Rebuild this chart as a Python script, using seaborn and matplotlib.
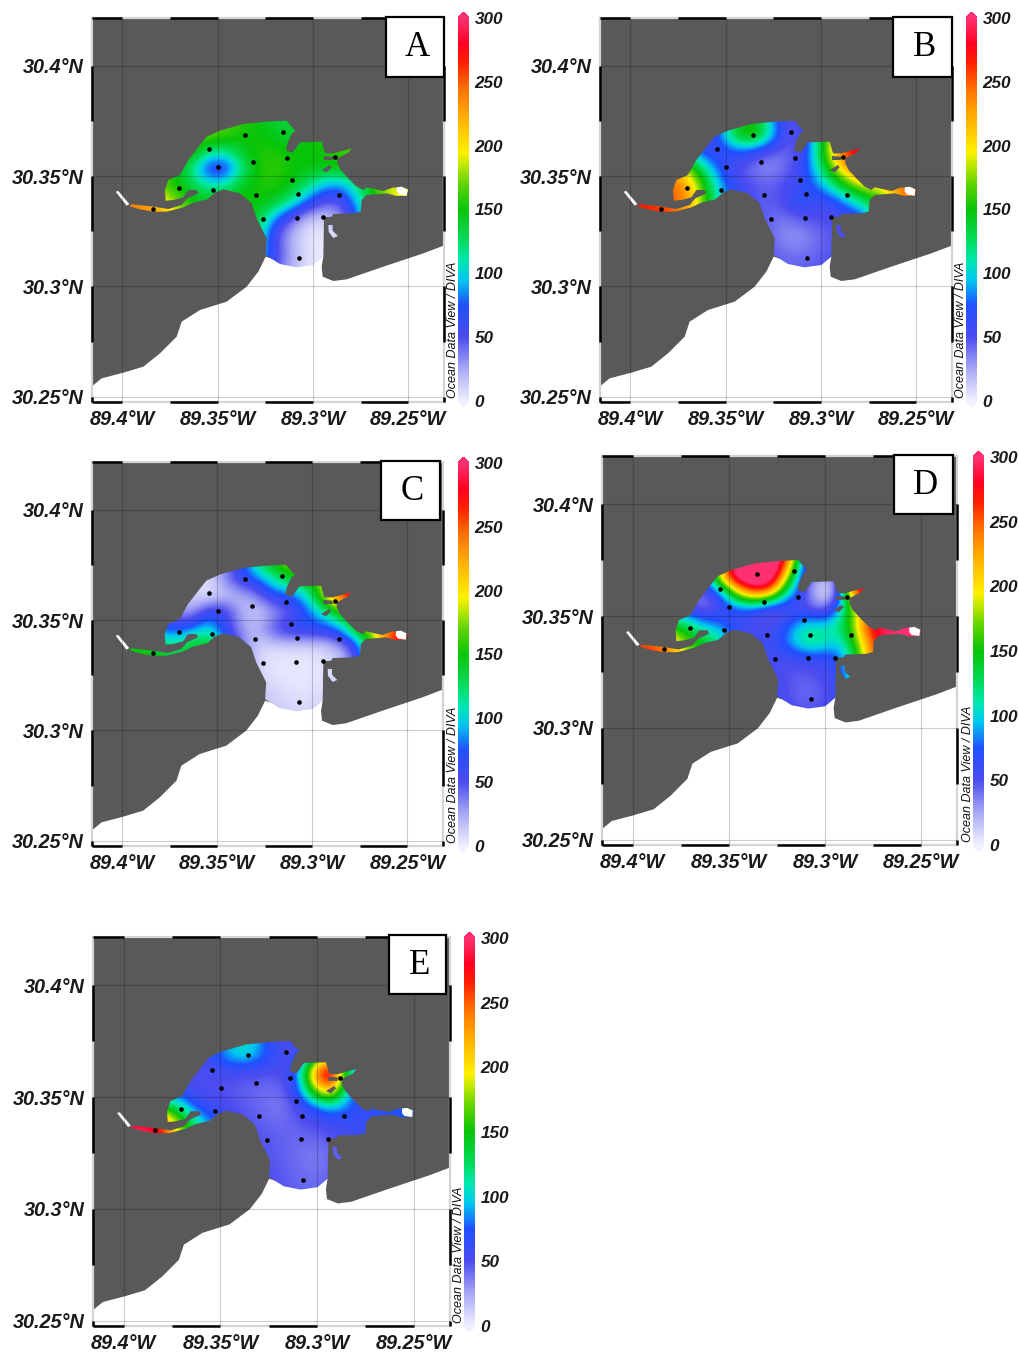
import numpy as np
import matplotlib
matplotlib.use("Agg")
import matplotlib.pyplot as plt
import seaborn as sns
from matplotlib.colors import LinearSegmentedColormap
from matplotlib.path import Path
from matplotlib.patches import PathPatch, Polygon, Rectangle

W, H = 1020, 1355

# colour scale, value / colour
CMAP_VALUES = [0, 25, 50, 75, 95, 110, 125, 150, 170, 185, 195, 225, 245, 265, 280, 300]
CMAP_COLORS = ["#f0f0ff", "#a8a8f5", "#4c4cf0", "#2050ff", "#00c8f0", "#00e8b0", "#00dc60", "#08c408",
               "#60d400", "#c0e800", "#fff000", "#ffa800", "#ff7000", "#ff2000", "#ff0020", "#ff3070"]
CBAR_TICKS = [0, 50, 100, 150, 200, 250, 300]

# sampling stations
STATION_LON = [-89.3837, -89.3703, -89.3544, -89.3497, -89.3526, -89.3355, -89.3315, -89.3301, -89.3260,
               -89.3159, -89.3138, -89.3110, -89.3079, -89.3086, -89.3072, -89.2883, -89.2862, -89.2946]
STATION_LAT = [30.3352, 30.3447, 30.3622, 30.3541, 30.3437, 30.3687, 30.3562, 30.3414, 30.3307,
               30.3701, 30.3583, 30.3482, 30.3417, 30.3311, 30.3127, 30.3585, 30.3414, 30.3313]

LON_TICKS = [-89.4, -89.35, -89.3, -89.25]
LON_LABELS = ["89.4°W", "89.35°W", "89.3°W", "89.25°W"]
LAT_TICKS = [30.4, 30.35, 30.3, 30.25]
LAT_LABELS = ["30.4°N", "30.35°N", "30.3°N", "30.25°N"]
LON_LIM = (-89.4159, -89.2313)
LAT_LIM = (30.24765, 30.42156)
LON_DASHES = [(-89.4159, -89.4), (-89.375, -89.35), (-89.325, -89.3), (-89.275, -89.25)]
LAT_DASHES = [(30.4, 30.375), (30.35, 30.325), (30.3, 30.275), (30.25, 30.24765)]

BAY = [(197, 272), (195, 240), (205, 210), (240, 195), (265, 150), (300, 105), (320, 80), (360, 62), (430, 42),
       (500, 35), (560, 32), (570, 45), (586, 62), (575, 72), (562, 100), (558, 122), (578, 128), (600, 97),
       (665, 95), (675, 130), (700, 130), (755, 115), (745, 128), (712, 145), (712, 160), (722, 180), (745, 205),
       (770, 230), (790, 240), (800, 232), (850, 243), (880, 232), (925, 238), (920, 257), (890, 258), (860, 250),
       (800, 255), (785, 270), (782, 305), (760, 310), (700, 312), (695, 320), (672, 322), (670, 440), (640, 465),
       (590, 472), (540, 462), (497, 435), (500, 385), (470, 325), (455, 280), (420, 250), (370, 238), (345, 248),
       (322, 268), (280, 278), (250, 292), (200, 305), (160, 305), (120, 298), (88, 288), (95, 283), (160, 290),
       (205, 297), (245, 285), (262, 265), (295, 250), (290, 240), (265, 240), (250, 262), (220, 270)]
CREEK = [(685, 345), (698, 345), (698, 362), (714, 378), (700, 384), (686, 365)]
ISLANDS = [[(672, 138), (700, 140), (700, 150), (672, 150)],
           [(665, 180), (690, 165), (695, 172), (680, 187)]]
WHITE_ENDS = [[(47, 245), (55, 243), (88, 282), (80, 287)],
              [(890, 232), (905, 230), (922, 238), (920, 257), (897, 254), (890, 245)]]
WATER = [(-40, 835), (-23, 828), (5, 805), (70, 788), (130, 770), (180, 730), (230, 680), (245, 635), (300, 600),
         (380, 575), (440, 530), (475, 485), (497, 440), (590, 470), (670, 440), (665, 470), (668, 500), (700, 513),
         (740, 508), (850, 470), (970, 430), (1028, 408), (1060, 398), (1060, 900), (-40, 900)]

# field values on a coarse map grid, rows north to south
FIELD_A = [
    [170, 170, 170, 170, 170, 170, 170, 165, 160, 150, 135, 135, 150, 150, 150, 150, 150, 150, 150],
    [170, 170, 170, 170, 170, 172, 172, 165, 150, 150, 145, 135, 150, 155, 165, 170, 170, 170, 170],
    [170, 170, 170, 170, 170, 165, 120, 115, 145, 155, 155, 150, 150, 150, 160, 170, 170, 170, 170],
    [170, 170, 170, 165, 155, 115, 55, 50, 115, 155, 160, 150, 150, 150, 150, 150, 150, 150, 150],
    [230, 230, 190, 165, 150, 135, 110, 115, 145, 155, 155, 150, 120, 90, 85, 125, 160, 195, 200],
    [240, 240, 240, 215, 175, 150, 150, 150, 150, 150, 145, 115, 75, 45, 48, 100, 150, 190, 200],
    [245, 245, 235, 230, 205, 170, 150, 150, 150, 140, 80, 42, 12, 10, 30, 80, 150, 190, 200],
    [245, 245, 235, 230, 205, 170, 150, 150, 150, 120, 50, 20, 3, 3, 5, 60, 150, 190, 200],
    [245, 245, 235, 230, 205, 170, 150, 150, 130, 110, 55, 25, 3, 3, 5, 60, 150, 190, 200],
    [245, 245, 235, 230, 205, 170, 150, 150, 130, 100, 50, 20, 5, 3, 5, 60, 150, 190, 200]]
FIELD_B = [
    [50, 50, 50, 50, 50, 50, 70, 120, 155, 110, 50, 45, 80, 180, 250, 290, 290, 290, 290],
    [50, 50, 50, 50, 60, 55, 65, 140, 175, 130, 55, 45, 105, 195, 260, 290, 290, 290, 290],
    [60, 60, 60, 80, 100, 70, 55, 70, 65, 45, 40, 50, 110, 215, 285, 295, 295, 295, 295],
    [230, 230, 230, 230, 195, 135, 80, 50, 40, 30, 40, 55, 100, 170, 235, 280, 280, 280, 280],
    [250, 250, 250, 250, 240, 175, 100, 65, 50, 45, 50, 60, 80, 120, 160, 195, 195, 235, 260],
    [270, 270, 265, 255, 245, 190, 115, 70, 50, 45, 50, 75, 55, 60, 95, 125, 160, 235, 260],
    [270, 270, 265, 260, 220, 175, 120, 70, 50, 45, 38, 45, 50, 52, 50, 70, 160, 235, 260],
    [270, 270, 265, 260, 220, 175, 120, 70, 50, 45, 32, 30, 40, 48, 50, 70, 160, 235, 260],
    [270, 270, 265, 260, 220, 175, 120, 70, 50, 50, 40, 38, 42, 50, 50, 70, 160, 235, 260],
    [270, 270, 265, 260, 220, 175, 120, 70, 50, 50, 45, 45, 48, 50, 50, 70, 160, 235, 260]]
FIELD_C = [
    [10, 10, 10, 10, 10, 10, 10, 30, 65, 125, 160, 180, 175, 180, 250, 290, 290, 290, 290],
    [10, 10, 10, 10, 10, 10, 5, 35, 65, 80, 115, 145, 145, 185, 275, 290, 290, 290, 290],
    [20, 20, 20, 20, 20, 12, 3, 12, 18, 35, 70, 70, 105, 185, 280, 295, 295, 295, 295],
    [70, 70, 70, 60, 30, 22, 65, 65, 22, 12, 25, 45, 75, 105, 150, 175, 175, 175, 175],
    [150, 150, 140, 70, 75, 80, 110, 60, 28, 20, 55, 70, 70, 70, 85, 165, 195, 265, 280],
    [150, 150, 150, 150, 110, 150, 150, 100, 40, 10, 8, 8, 8, 10, 25, 60, 170, 265, 280],
    [155, 155, 150, 145, 145, 150, 150, 100, 40, 8, 3, 3, 3, 5, 15, 50, 170, 265, 280],
    [155, 155, 150, 145, 145, 150, 150, 100, 40, 8, 6, 3, 3, 5, 10, 50, 170, 265, 280],
    [155, 155, 150, 145, 145, 150, 150, 100, 40, 15, 12, 6, 6, 8, 10, 50, 170, 265, 280],
    [155, 155, 150, 145, 145, 150, 150, 100, 40, 15, 15, 10, 10, 12, 12, 50, 170, 265, 280]]
FIELD_D = [
    [60, 60, 60, 60, 60, 60, 100, 320, 350, 350, 280, 70, 40, 40, 280, 300, 300, 300, 300],
    [50, 50, 50, 50, 50, 60, 225, 340, 370, 360, 200, 50, 30, 30, 280, 300, 300, 300, 300],
    [50, 50, 50, 50, 50, 40, 70, 190, 270, 250, 110, 55, 0, 15, 280, 300, 300, 300, 300],
    [60, 60, 60, 60, 55, 30, 50, 70, 65, 35, 45, 55, 25, 70, 180, 230, 300, 300, 300],
    [200, 200, 170, 140, 135, 95, 85, 55, 50, 50, 70, 105, 105, 115, 175, 290, 300, 300, 300],
    [260, 260, 260, 230, 170, 150, 120, 80, 60, 55, 85, 125, 125, 95, 150, 250, 300, 300, 300],
    [265, 265, 260, 245, 190, 140, 120, 80, 60, 55, 50, 55, 58, 65, 125, 230, 300, 300, 300],
    [265, 265, 260, 245, 190, 140, 120, 80, 60, 55, 48, 45, 50, 60, 110, 230, 300, 300, 300],
    [265, 265, 260, 245, 190, 140, 120, 80, 60, 60, 50, 40, 45, 55, 110, 230, 300, 300, 300],
    [265, 265, 260, 245, 190, 140, 120, 80, 60, 60, 52, 48, 50, 55, 110, 230, 300, 300, 300]]
FIELD_E = [
    [50, 50, 50, 50, 50, 50, 60, 80, 110, 80, 55, 50, 45, 70, 55, 70, 70, 70, 70],
    [50, 50, 50, 50, 50, 50, 65, 100, 110, 85, 55, 50, 105, 165, 90, 70, 70, 70, 70],
    [50, 50, 50, 50, 50, 50, 50, 50, 50, 48, 48, 65, 225, 350, 140, 75, 75, 75, 75],
    [70, 70, 70, 70, 55, 52, 50, 48, 45, 42, 42, 58, 170, 250, 100, 60, 60, 60, 60],
    [200, 200, 180, 130, 125, 70, 55, 50, 45, 42, 35, 50, 70, 95, 85, 60, 70, 75, 80],
    [295, 295, 295, 280, 180, 125, 85, 60, 50, 45, 42, 45, 50, 55, 58, 62, 70, 75, 80],
    [295, 295, 295, 290, 200, 140, 90, 60, 50, 48, 45, 42, 42, 45, 55, 62, 70, 75, 80],
    [295, 295, 295, 290, 200, 140, 90, 60, 50, 50, 45, 42, 35, 42, 45, 62, 70, 75, 80],
    [295, 295, 295, 290, 200, 140, 90, 60, 50, 50, 48, 42, 40, 42, 45, 62, 70, 75, 80],
    [295, 295, 295, 290, 200, 140, 90, 60, 50, 50, 48, 45, 42, 45, 45, 62, 70, 75, 80]]

# panel layout in figure pixels
PANEL_NAMES = ["A", "B", "C", "D", "E"]
PANEL_FIELDS = [FIELD_A, FIELD_B, FIELD_C, FIELD_D, FIELD_E]
PANEL_RECTS = [(92, 18, 444, 402), (600, 18, 952, 402), (92, 462, 443, 846), (602, 456, 957, 845), (93, 937, 450, 1326)]
CBAR_RECTS = [(458, 18, 469, 401), (966, 18, 977, 401), (458, 463, 469, 846), (973, 457, 984, 845), (464, 938, 475, 1326)]
BOX_RECTS = [(386, 17, 444, 77), (893, 17, 952, 77), (381, 461, 440, 520), (894, 455, 953, 514), (389, 935, 446, 994)]
CBAR_TIP = 6

LAND = "#595959"


def lon_of(x):
    return -89.4 + (np.asarray(x, dtype=float) - 67) / 5720


def lat_of(y):
    return 30.35 - (np.asarray(y, dtype=float) - 198) / 6624


def geo(points):
    pts = np.array(points, dtype=float)
    return np.column_stack([lon_of(pts[:, 0]), lat_of(pts[:, 1])])


def px_axes(rect):
    x0, y0, x1, y1 = rect
    return fig.add_axes([x0 / W, 1 - y1 / H, (x1 - x0) / W, (y1 - y0) / H])


sns.set_theme(style="white")
plt.rcParams["font.family"] = ["Liberation Sans", "DejaVu Sans"]

cmap = LinearSegmentedColormap.from_list("odv", [(v / 300, c) for v, c in zip(CMAP_VALUES, CMAP_COLORS)], N=512)
cmap.set_over("#ff3070")
cmap.set_under("#f0f0ff")

fig = plt.figure(figsize=(W / 100, H / 100), dpi=100, facecolor="white")

for name, field, rect, cbar_rect, box in zip(PANEL_NAMES, PANEL_FIELDS, PANEL_RECTS, CBAR_RECTS, BOX_RECTS):
    ax = px_axes(rect)
    ax.set_facecolor(LAND)
    ax.add_patch(Polygon(geo(WATER), closed=True, fc="white", ec="none", zorder=0.5))

    im = ax.imshow(np.array(field, dtype=float), cmap=cmap, vmin=0, vmax=300, aspect="auto", zorder=1,
                   interpolation="bicubic", interpolation_stage="data",
                   extent=(lon_of(0), lon_of(950), lat_of(500), lat_of(0)))
    bay_path = Path.make_compound_path(Path(geo(BAY + BAY[:1]), closed=True), Path(geo(CREEK + CREEK[:1]), closed=True))
    im.set_clip_path(PathPatch(bay_path, transform=ax.transData))

    for island in ISLANDS:
        ax.add_patch(Polygon(geo(island), closed=True, fc=LAND, ec="none", zorder=1.5))
    for end in WHITE_ENDS:
        ax.add_patch(Polygon(geo(end), closed=True, fc="white", ec="none", zorder=1.5))

    sns.scatterplot(x=STATION_LON, y=STATION_LAT, color="black", s=11, linewidth=0, ax=ax, zorder=5, legend=False)

    ax.set_xlim(LON_LIM)
    ax.set_ylim(LAT_LIM)
    ax.set_xticks(LON_TICKS, LON_LABELS)
    ax.set_yticks(LAT_TICKS, LAT_LABELS)
    ax.tick_params(length=0, pad=6)
    for lab in ax.get_xticklabels() + ax.get_yticklabels():
        lab.set_fontsize(14.3)
        lab.set_fontweight("bold")
        lab.set_fontstyle("italic")
        lab.set_color("#1a1a1a")
    ax.grid(True, color="black", alpha=0.2, linewidth=0.8)
    ax.set_axisbelow(False)

    # ODV style border
    for spine in ax.spines.values():
        spine.set_color("#d4d4d4")
        spine.set_linewidth(1.6)
    for a, b in LON_DASHES:
        ax.plot([a, b], [LAT_LIM[1]] * 2, color="black", lw=1.8, clip_on=False, zorder=6, solid_capstyle="butt")
        ax.plot([a, b], [LAT_LIM[0]] * 2, color="black", lw=1.8, clip_on=False, zorder=6, solid_capstyle="butt")
    for a, b in LAT_DASHES:
        ax.plot([LON_LIM[0]] * 2, [a, b], color="black", lw=1.8, clip_on=False, zorder=6, solid_capstyle="butt")
        ax.plot([LON_LIM[1]] * 2, [a, b], color="black", lw=1.8, clip_on=False, zorder=6, solid_capstyle="butt")

    # colorbar tips are drawn inside the axes given, so it has to be taller than the body
    cx0, cy0, cx1, cy1 = cbar_rect
    cax = px_axes((cx0, cy0 - CBAR_TIP, cx1, cy1 + CBAR_TIP))
    cb = fig.colorbar(im, cax=cax, extend="both", extendfrac=CBAR_TIP / (cy1 - cy0), ticks=CBAR_TICKS)
    cb.outline.set_visible(False)
    cb.ax.tick_params(length=0, pad=4)
    for lab in cb.ax.get_yticklabels():
        lab.set_fontsize(12.3)
        lab.set_fontweight("bold")
        lab.set_fontstyle("italic")
        lab.set_color("#1a1a1a")

    fig.text((cx0 - 4.5) / W, 1 - (cy1 - 3) / H, "Ocean Data View / DIVA", rotation=90,
             ha="center", va="bottom", fontsize=9, fontstyle="italic", color="#111111")

    bx0, by0, bx1, by1 = box
    fig.add_artist(Rectangle((bx0 / W, 1 - by1 / H), (bx1 - bx0) / W, (by1 - by0) / H, transform=fig.transFigure,
                             fc="white", ec="black", lw=1.6, zorder=10))
    fig.text(((bx0 + bx1) / 2 + 2) / W, 1 - ((by0 + by1) / 2 + 1) / H, name, ha="center", va="center", fontsize=25,
             family="Liberation Serif", color="black", zorder=11)

fig.savefig("out.png", dpi=100)
